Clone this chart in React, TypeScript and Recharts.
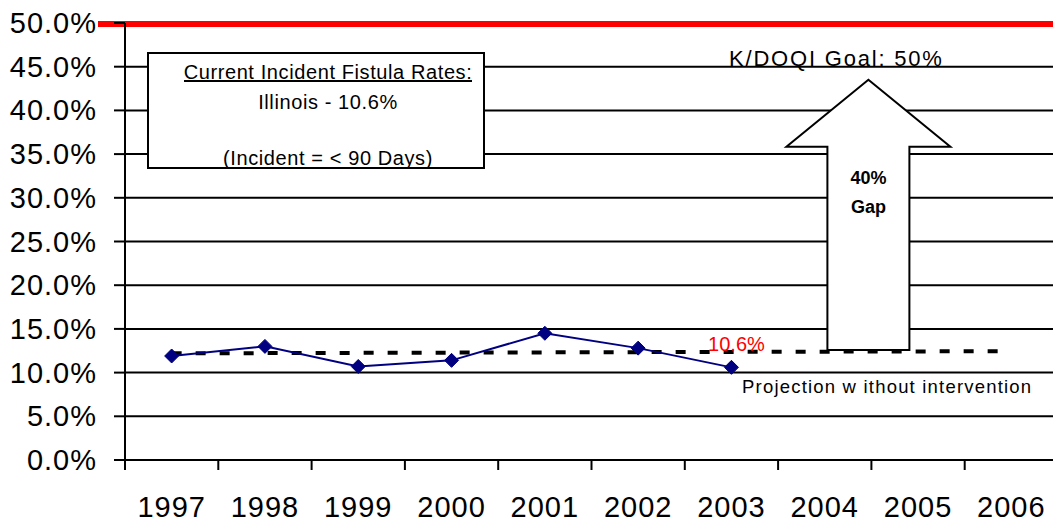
import React from "react"
import {
  ComposedChart,
  Line,
  XAxis,
  YAxis,
  CartesianGrid,
  ReferenceLine,
  ReferenceArea,
  LabelList,
} from "recharts"

// values (percent)
const years = ["1997", "1998", "1999", "2000", "2001", "2002", "2003", "2004", "2005", "2006"]
const actualRates = [11.9, 13.0, 10.7, 11.4, 14.5, 12.8, 10.6, null, null, null]
const projectionRates = [12.2, null, null, null, null, null, null, null, null, 12.45]
const yTicks = [0, 5, 10, 15, 20, 25, 30, 35, 40, 45, 50]
const goalRate = 50
const gapFrom = 12.6
const gapTo = 43.5

const data = years.map((year, i) => ({
  year,
  actual: actualRates[i],
  projection: projectionRates[i],
}))

const CHART_W = 1060
const CHART_H = 522
const Y_AXIS_W = 125
const X_AXIS_H = 62
const MARGIN = { top: 23, right: 2, left: 0, bottom: 0 }
const AXIS_Y = CHART_H - X_AXIS_H
const BAND = (CHART_W - MARGIN.right - Y_AXIS_W) / years.length
const lastActual = actualRates.reduce((acc: number, v, i) => (v != null ? i : acc), 0)

function XTick({ x, payload }: any) {
  const edge = x - BAND / 2
  return (
    <g>
      <line x1={edge} y1={AXIS_Y} x2={edge} y2={AXIS_Y + 10} stroke="#000" strokeWidth={2} />
      <text x={x} y={AXIS_Y + 57} textAnchor="middle" fontSize={29} letterSpacing={1} fill="#000">
        {payload.value}
      </text>
    </g>
  )
}

function YTick({ x, y, payload }: any) {
  return (
    <text x={x} y={y + 10} textAnchor="end" fontSize={29} letterSpacing={1} fill="#000">
      {payload.value.toFixed(1)}%
    </text>
  )
}

function Diamond(props: any) {
  const { cx, cy, index } = props
  if (cx == null || cy == null) return <g key={index} />
  const r = 7
  return (
    <path
      key={index}
      d={`M${cx},${cy - r} L${cx + r},${cy} L${cx},${cy + r} L${cx - r},${cy} Z`}
      fill="#000080"
      stroke="#000080"
    />
  )
}

function RateLabel(props: any) {
  if (props.index !== lastActual || props.value == null) return null
  const x = props.x ?? props.viewBox?.x
  const y = props.y ?? props.viewBox?.y
  return (
    <text x={x + 5} y={y - 16} textAnchor="middle" fontSize={20} fill="#ff0000">
      {props.value}%
    </text>
  )
}

function GapArrow({ x, y, width, height }: any) {
  const cx = x + width / 2 - 3
  const headH = 67
  const headW = 82
  const shaftW = 41
  const bottom = y + height
  const pts = [
    [cx, y],
    [cx + headW, y + headH],
    [cx + shaftW, y + headH],
    [cx + shaftW, bottom],
    [cx - shaftW, bottom],
    [cx - shaftW, y + headH],
    [cx - headW, y + headH],
  ]
  return (
    <g>
      <polygon points={pts.map((p) => p.join(",")).join(" ")} fill="#fff" stroke="#000" strokeWidth={2} />
      <text x={cx} y={y + 104} textAnchor="middle" fontSize={18} fontWeight="bold" fill="#000">
        40%
      </text>
      <text x={cx} y={y + 133} textAnchor="middle" fontSize={18} fontWeight="bold" fill="#000">
        Gap
      </text>
    </g>
  )
}

function GoalLine(p: any) {
  return <line x1={p.x1 - 27} y1={p.y1 + 1} x2={p.x2} y2={p.y2 + 1} stroke="#ff0000" strokeWidth={6} />
}

export default function App() {
  return (
    <div
      style={{
        position: "absolute",
        left: 0,
        top: 0,
        width: 1053,
        height: 522,
        overflow: "hidden",
        background: "#fff",
        fontFamily: '"Liberation Sans", Arial, sans-serif',
      }}
    >
      <ComposedChart width={CHART_W} height={CHART_H} data={data} margin={MARGIN}>
        <CartesianGrid vertical={false} stroke="#000" strokeWidth={2} />
        <XAxis
          dataKey="year"
          scale="band"
          height={X_AXIS_H}
          interval={0}
          tickLine={false}
          axisLine={{ stroke: "#000", strokeWidth: 2 }}
          tick={<XTick />}
        />
        <YAxis
          width={Y_AXIS_W}
          domain={[0, 50]}
          ticks={yTicks}
          interval={0}
          tickSize={11}
          tickMargin={17}
          tickLine={{ stroke: "#000", strokeWidth: 2 }}
          axisLine={{ stroke: "#000", strokeWidth: 2 }}
          tick={<YTick />}
        />
        <ReferenceArea x1="2004" x2="2005" y1={gapFrom} y2={gapTo} shape={<GapArrow />} />
        <ReferenceLine y={goalRate} shape={GoalLine} />
        <Line
          dataKey="projection"
          connectNulls
          stroke="#000"
          strokeWidth={4}
          strokeDasharray="10 14"
          dot={false}
          activeDot={false}
          isAnimationActive={false}
        />
        <Line
          dataKey="actual"
          stroke="#000080"
          strokeWidth={2}
          dot={Diamond}
          activeDot={false}
          isAnimationActive={false}
        >
          <LabelList dataKey="actual" content={RateLabel} />
        </Line>
      </ComposedChart>
      <svg
        width={1053}
        height={522}
        style={{ position: "absolute", left: 0, top: 0, pointerEvents: "none" }}
      >
        <rect x={148} y={53} width={336} height={115} fill="#fff" stroke="#000" strokeWidth={2} />
        <text x={328} y={79} textAnchor="middle" fontSize={20} letterSpacing={0.6} fill="#000">
          Current Incident Fistula Rates:
        </text>
        <line x1={184} y1={81} x2={472} y2={81} stroke="#000" strokeWidth={2} />
        <text x={328} y={109} textAnchor="middle" fontSize={20} letterSpacing={0.6} fill="#000">
          Illinois - 10.6%
        </text>
        <text x={328} y={165} textAnchor="middle" fontSize={20} letterSpacing={0.6} fill="#000">
          (Incident = &lt; 90 Days)
        </text>
        <text x={729} y={66} fontSize={22} letterSpacing={1.8} fill="#000">
          K/DOQI Goal: 50%
        </text>
        <text x={742} y={393} fontSize={18.5} letterSpacing={1.2} fill="#000">
          Projection w ithout intervention
        </text>
      </svg>
    </div>
  )
}
